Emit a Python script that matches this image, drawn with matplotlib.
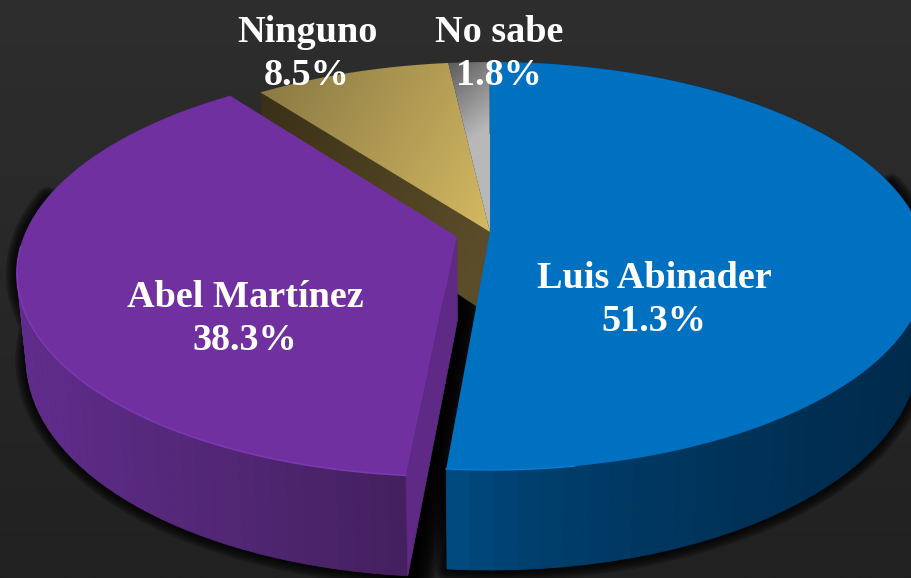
import matplotlib
matplotlib.use('Agg')
import matplotlib.pyplot as plt
from matplotlib.colors import to_rgb
from matplotlib.patches import Polygon
import numpy as np

labels = ['Luis Abinader', 'Abel Martínez', 'Ninguno', 'No sabe']
values = [51.3, 38.3, 8.5, 1.8]
label_x = [654, 245, 307, 499]
label_y = [300, 319, 54, 54]

# pie geometry in pixels, perspective squeezes the far side
CX, CY = 490, 232
A0, B0, H0, K = 431, 198.3, 83.4, 0.1667


def project(theta, z=0, offset=(0, 0)):
    u = np.sin(theta) + offset[0]
    v = np.cos(theta) + offset[1]
    return project_uv(u, v, z)


def project_uv(u, v, z=0):
    d = 1 + K * v
    x = CX + A0 * u / d * (1 - 0.02 * z)
    y = CY - B0 * v / d + H0 * z / d
    return x, y


def lerp(c0, c1, t):
    c0, c1 = np.array(to_rgb(c0)), np.array(to_rgb(c1))
    return tuple(c0 + (c1 - c0) * t)


def top_poly(t0, t1, offset=(0, 0)):
    th = np.linspace(t0, t1, 200)
    x, y = project(th, 0, offset)
    ax0, ay0 = project_uv(offset[0], offset[1])
    return np.column_stack([np.r_[ax0, x], np.r_[ay0, y]])


def gradient_fill(ax, poly, c0, c1, p0, p1, zorder):
    # linear gradient from p0 to p1, clipped to the polygon
    gx, gy = np.meshgrid(np.arange(0, 913), np.arange(0, 579))
    d = np.array(p1) - np.array(p0)
    t = ((gx - p0[0]) * d[0] + (gy - p0[1]) * d[1]) / (d @ d)
    t = np.clip(t, 0, 1)[..., None]
    img = np.array(to_rgb(c0)) + (np.array(to_rgb(c1)) - np.array(to_rgb(c0))) * t
    im = ax.imshow(img, extent=(0, 912, 578, 0), zorder=zorder, aspect='auto')
    if poly is not None:
        patch = Polygon(poly, closed=True, transform=ax.transData, fc='none', ec='none')
        ax.add_patch(patch)
        im.set_clip_path(patch)


def side_wall(ax, t0, t1, c0, c1, zorder, offset=(0, 0), n=70, gamma=1.0):
    # strips along the rim, colour follows the screen x position
    th = np.linspace(t0, t1, n + 1)
    x0, y0 = project(th, 0, offset)
    x1, y1 = project(th, 1, offset)
    xmin, xmax = x0.min(), x0.max()
    for i in range(n):
        t = ((x0[i] + x0[i + 1]) / 2 - xmin) / (xmax - xmin)
        col = lerp(c0, c1, t ** gamma)
        ax.fill([x0[i], x0[i + 1], x1[i + 1], x1[i]], [y0[i], y0[i + 1], y1[i + 1], y1[i]],
                fc=col, ec=col, lw=0.6, zorder=zorder)


def shadow(ax, poly, zorder, width=16, alpha=0.24):
    # soft dark halo made of stacked strokes
    for lw in range(width, 0, -3):
        ax.add_patch(Polygon(poly, closed=True, fc=(0, 0, 0, alpha), ec=(0, 0, 0, alpha), lw=lw,
                             joinstyle='round', zorder=zorder))


fig = plt.figure(figsize=(9.12, 5.78), dpi=100, facecolor='#2c2b2c')
ax = fig.add_axes([0, 0, 1, 1])

gradient_fill(ax, None, '#2f2e2f', '#212121', (0, 0), (0, 578), 0)

total = sum(values)
edges = np.r_[0, np.cumsum(values)] / total * 2 * np.pi

explode = (-0.0768, -0.0224)

# shadows under the two front slices
b0, b1 = edges[0], edges[1]
th = np.linspace(np.pi / 2 - 0.25, b1, 120)
xb0, yb0 = project(th, 0)
xb1, yb1 = project(th, 1)
shadow(ax, np.column_stack([np.r_[xb0, xb1[::-1]], np.r_[yb0, yb1[::-1]]]), 1)
p0, p1 = edges[1], edges[2]
th = np.linspace(p0, 1.5 * np.pi + 0.2, 120)
xp0, yp0 = project(th, 0, explode)
xp1, yp1 = project(th, 1, explode)
shadow(ax, np.column_stack([np.r_[xp0, xp1[::-1]], np.r_[yp0, yp1[::-1]]]), 1)

# Ninguno: cut face then top
n0, n1 = edges[2], edges[3]
tx, ty = project(n0)
ax0, ay0 = project_uv(0, 0)
tx1, ty1 = project(n0, 1)
ax1, ay1 = project_uv(0, 0, 1)
face = np.array([[tx, ty], [ax0, ay0], [ax1, ay1], [tx1, ty1]])
gradient_fill(ax, face, '#3a3018', '#5b4d29', (tx, ty), (ax0, ay0), 2)
gradient_fill(ax, top_poly(n0, n1), '#8b7a44', '#d4b962', (tx, ty), (ax0, ay0 - 5), 3)

# No sabe
s0, s1 = edges[3], edges[4]
gradient_fill(ax, top_poly(s0, s1), '#5f5f5f', '#b8b8b8', (445, 68), (490, 125), 3)

# Abel Martinez
tx, ty = project(p0, 0, explode)
ax0, ay0 = project_uv(*explode)
tx1, ty1 = project(p0, 1, explode)
ax1, ay1 = project_uv(explode[0], explode[1], 1)
face = np.array([[tx, ty], [ax0, ay0], [ax1, ay1], [tx1, ty1]])
shadow(ax, face, 1, width=38, alpha=0.2)
side_wall(ax, p0, p1, '#602d8c', '#44205f', 4, explode)
ax.add_patch(Polygon(face, closed=True, fc='#5f2a85', ec='#5f2a85', lw=0.5, zorder=5))
ax.add_patch(Polygon(top_poly(p0, p1, explode), closed=True, fc='#7030a0', ec='none', zorder=6))
x, y = project(np.linspace(p0, 1.5 * np.pi - 0.05, 200), 0, explode)
ax.plot(x, y, color='#7c38b2', lw=1.2, zorder=6)

# Luis Abinader
side_wall(ax, b0, b1, '#00528c', '#002a4c', 7, gamma=0.45)
ax.add_patch(Polygon(top_poly(b0, b1), closed=True, fc='#0070c0', ec='none', zorder=8))
x, y = project(np.linspace(b1 - 0.25, b1, 60))
ax.plot(x, y, color='#0a7cd2', lw=1.0, zorder=8)

for name, val, lx, ly in zip(labels, values, label_x, label_y):
    ax.text(lx, ly, f'{name}\n{val}%', ha='center', va='center', color='white', zorder=10,
            family='Liberation Serif', fontweight='bold', fontsize=27.5, linespacing=1.3)

ax.set_xlim(0, 912)
ax.set_ylim(578, 0)
ax.axis('off')
fig.savefig('out.png', dpi=100)
